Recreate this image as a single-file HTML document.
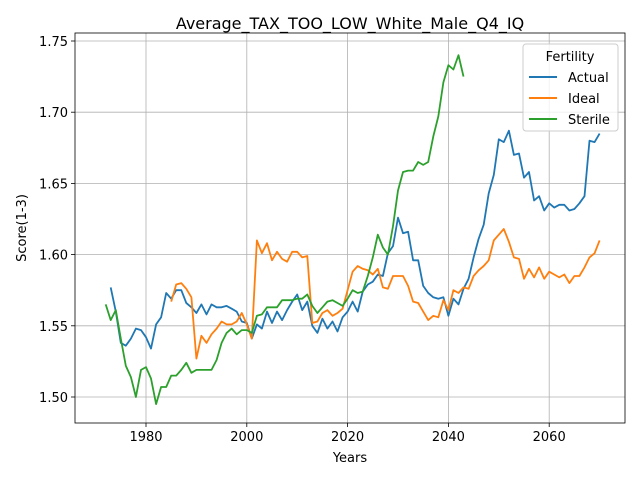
<!DOCTYPE html>
<html><head><meta charset="utf-8"><style>
body{margin:0;background:#fff;}
text{font-family:"DejaVu Sans","Liberation Sans",sans-serif;fill:#000;}
</style></head><body>
<svg id="chart" width="640" height="480" xmlns="http://www.w3.org/2000/svg">
<rect width="640" height="480" fill="#fff"/>
<text x="350" y="29" font-size="16" text-anchor="middle">Average_TAX_TOO_LOW_White_Male_Q4_IQ</text>
<g id="grid"></g><g id="lines"></g><g id="axes"></g>
<text x="350" y="462" font-size="13" text-anchor="middle">Years</text>
<text transform="translate(26,228) rotate(-90)" font-size="13" text-anchor="middle">Score(1-3)</text>
<g>
<rect x="523" y="44" width="95" height="87" rx="3" fill="#fff" fill-opacity="0.8" stroke="#ccc"/>
<text x="570" y="61" font-size="13" text-anchor="middle">Fertility</text>
<g><line x1="529" y1="77" x2="557" y2="77" stroke="#1f77b4" stroke-width="2"/><text x="568" y="82" font-size="13">Actual</text></g>
<g><line x1="529" y1="98" x2="557" y2="98" stroke="#ff7f0e" stroke-width="2"/><text x="568" y="103" font-size="13">Ideal</text></g>
<g><line x1="529" y1="119" x2="557" y2="119" stroke="#2ca02c" stroke-width="2"/><text x="568" y="124" font-size="13">Sterile</text></g>
</g>
</svg>
<script>
const actualStart = 1973;
const actual = [1.577,1.560,1.538,1.536,1.541,1.548,1.547,1.542,1.534,1.551,1.556,1.573,1.569,1.575,1.575,1.566,1.563,1.559,1.565,1.558,1.565,1.563,1.563,1.564,1.562,1.560,1.553,1.552,1.541,1.551,1.548,1.560,1.552,1.560,1.554,1.561,1.567,1.572,1.561,1.567,1.550,1.545,1.555,1.548,1.553,1.546,1.556,1.560,1.567,1.560,1.574,1.579,1.581,1.586,1.585,1.601,1.606,1.626,1.615,1.616,1.596,1.596,1.578,1.573,1.570,1.569,1.570,1.557,1.569,1.565,1.576,1.583,1.598,1.611,1.621,1.643,1.656,1.681,1.679,1.687,1.670,1.671,1.654,1.658,1.638,1.641,1.631,1.636,1.633,1.635,1.635,1.631,1.632,1.636,1.641,1.680,1.679,1.685];
const idealStart = 1985;
const ideal = [1.567,1.579,1.580,1.576,1.570,1.527,1.543,1.538,1.544,1.548,1.553,1.551,1.551,1.553,1.559,1.551,1.541,1.610,1.601,1.608,1.596,1.602,1.597,1.595,1.602,1.602,1.598,1.599,1.552,1.553,1.559,1.561,1.557,1.559,1.562,1.575,1.588,1.592,1.590,1.589,1.586,1.590,1.577,1.576,1.585,1.585,1.585,1.578,1.567,1.566,1.560,1.554,1.557,1.556,1.568,1.561,1.575,1.573,1.577,1.576,1.585,1.589,1.592,1.596,1.610,1.614,1.618,1.609,1.598,1.597,1.583,1.590,1.584,1.591,1.583,1.588,1.586,1.584,1.586,1.580,1.585,1.585,1.591,1.598,1.601,1.610];
const sterileStart = 1972;
const sterile = [1.565,1.554,1.561,1.541,1.522,1.514,1.500,1.519,1.521,1.513,1.495,1.507,1.507,1.515,1.515,1.519,1.524,1.517,1.519,1.519,1.519,1.519,1.526,1.538,1.545,1.548,1.544,1.547,1.547,1.545,1.557,1.558,1.563,1.563,1.563,1.568,1.568,1.568,1.569,1.569,1.572,1.564,1.559,1.563,1.567,1.568,1.566,1.564,1.569,1.575,1.573,1.574,1.585,1.598,1.614,1.605,1.600,1.620,1.645,1.658,1.659,1.659,1.665,1.663,1.665,1.683,1.697,1.721,1.733,1.730,1.740,1.725];
const xTicks = [1980,2000,2020,2040,2060];
const yTicks = [1.50,1.55,1.60,1.65,1.70,1.75];

const NS="http://www.w3.org/2000/svg";
const L=75,R=625,T=33,B=423;
const xs=y=>146+(y-1980)*5.04;
const ys=v=>397-(v-1.5)*1424;
const grid=document.getElementById('grid'),axes=document.getElementById('axes'),lines=document.getElementById('lines');
function mk(tag,attrs,parent){const e=document.createElementNS(NS,tag);for(const k in attrs)e.setAttribute(k,attrs[k]);parent.appendChild(e);return e;}
xTicks.forEach(t=>{const x=xs(t);
 const g=mk('line',{x1:x,x2:x,y1:T,y2:B,stroke:'#b0b0b0','stroke-width':0.8},grid);
 
 
 mk('line',{x1:x,x2:x,y1:B,y2:B+4,stroke:'#000','stroke-width':0.8},axes);
 const tx=mk('text',{x:x,y:B+18,'font-size':13,'text-anchor':'middle'},axes);tx.textContent=t;
 
 
});
yTicks.forEach(t=>{const y=ys(t);
 const g=mk('line',{x1:L,x2:R,y1:y,y2:y,stroke:'#b0b0b0','stroke-width':0.8},grid);
 
 
 mk('line',{x1:L-4,x2:L,y1:y,y2:y,stroke:'#000','stroke-width':0.8},axes);
 const tx=mk('text',{x:L-7,y:y+5,'font-size':13,'text-anchor':'end'},axes);tx.textContent=t.toFixed(2);
 
 
});
const fr=mk('rect',{x:L,y:T,width:R-L,height:B-T,fill:'none',stroke:'#000','stroke-width':0.8},axes);


[[actual,actualStart,'#1f77b4','actual-line'],[ideal,idealStart,'#ff7f0e','ideal-line'],[sterile,sterileStart,'#2ca02c','sterile-line']].forEach(([d,s,c,n])=>{
 const p=mk('polyline',{points:d.map((v,i)=>xs(s+i).toFixed(1)+','+ys(v).toFixed(1)).join(' '),fill:'none',stroke:c,'stroke-width':1.8,'stroke-linejoin':'round'},lines);
 
 
});
</script>
</body></html>
